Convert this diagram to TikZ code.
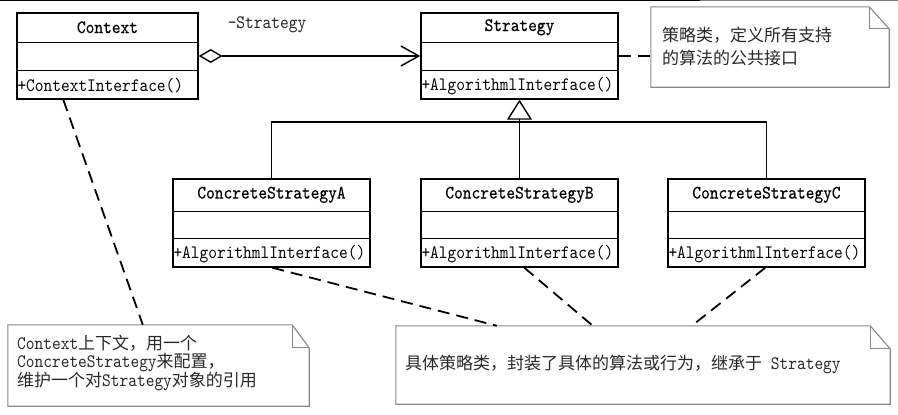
\documentclass[tikz,border=0pt]{standalone}
\usepackage{fontspec}
\newfontfamily\cjk{Noto Sans CJK SC}
\newfontfamily\mono[Extension=.otf,FakeStretch=0.874]{lmmono10-regular}
\newfontfamily\monob[Extension=.otf,FakeStretch=0.874,FakeBold=0.4]{lmmono10-regular}
\usetikzlibrary{arrows.meta,calc}
\newcommand\lat[1]{{\mono\fontsize{19}{21}\selectfont #1}}
\definecolor{notegray}{RGB}{135,135,135}
\definecolor{notetext}{RGB}{40,40,40}
\begin{document}
\begin{tikzpicture}[x=1pt,y=-1pt,
  cls/.style={draw, line width=1.4pt, inner sep=0pt},
  sepline/.style={line width=1.4pt},
  txt/.style={font=\mono\fontsize{19}{21}\selectfont, inner sep=0pt},
  ttl/.style={font=\monob\fontsize{19}{21}\selectfont, inner sep=0pt},
  notebox/.style={inner sep=0pt},
  noteline/.style={draw=notegray, line width=1.1pt, line join=miter},
  ntxt/.style={font=\cjk\fontsize{17}{20}\selectfont, text=notetext, inner sep=0pt, anchor=base west},
  dashline/.style={line width=1.8pt, dash pattern=on 12pt off 7pt},
  link/.style={line width=1.2pt}
]
\useasboundingbox (0,0) rectangle (898,415);
\draw[line width=1.3pt] (0,0.7) -- (700,0.7);
\draw[line width=1.0pt, draw=gray] (700,0.7) -- (898,0.7);

% ---- classes ----
% Context
\node[cls, minimum width=181pt, minimum height=86pt] (ctx) at (107.5,56) {};
\draw[sepline] ($(ctx.north west)+(0,30)$) -- ($(ctx.north east)+(0,30)$);
\draw[sepline] ($(ctx.north west)+(0,58)$) -- ($(ctx.north east)+(0,58)$);
\node[ttl] (ctxname) at ($(ctx.north)+(0,15)$) {Context};
\node[txt, anchor=west] (ctxop) at ($(ctx.south west)+(1,-14)$) {+ContextInterface()};

% Strategy
\node[cls, minimum width=197pt, minimum height=86pt] (str) at (519.5,56) {};
\draw[sepline] ($(str.north west)+(0,30)$) -- ($(str.north east)+(0,30)$);
\draw[sepline] ($(str.north west)+(0,58)$) -- ($(str.north east)+(0,58)$);
\node[ttl] (strname) at ($(str.north)+(0,15)$) {Strategy};
\node[txt, anchor=west] (strop) at ($(str.south west)+(1,-14)$) {+AlgorithmlInterface()};

% Concrete A, B, C
\foreach \nm/\cx/\lbl in {ca/271.5/A, cb/519.5/B, cc/766.5/C}{
  \node[cls, minimum width=197pt, minimum height=88pt] (\nm) at (\cx,223) {};
  \draw[sepline] ($(\nm.north west)+(0,33)$) -- ($(\nm.north east)+(0,33)$);
  \draw[sepline] ($(\nm.north west)+(0,60)$) -- ($(\nm.north east)+(0,60)$);
  \node[ttl] (\nm name) at ($(\nm.north)+(0,16.5)$) {ConcreteStrategy\lbl};
  \node[txt, anchor=west] (\nm op) at ($(\nm.south west)+(1,-14)$) {+AlgorithmlInterface()};
}

% ---- relations ----
\draw[link, {Diamond[open,length=24pt,width=14pt,line width=1.4pt]}-{Straight Barb[length=18pt,width=20pt,line width=1.4pt]}]
  (ctx.east) -- (str.west);
\node[txt, text=black!85] (role) at (267,25) {-Strategy};

\coordinate (bar) at (519.5,122);
\draw[link] (ca.north) |- (bar) -| (cc.north);
\draw[link, -{Triangle[open,length=20pt,width=25pt,line width=1.4pt]}] (cb.north) -- (str.south);

% ---- notes ----
\node[notebox, minimum width=238pt, minimum height=80pt] (n1) at (770,47) {};
\draw[noteline] (n1.north west) -- ($(n1.north east)+(-20,0)$) -- ($(n1.north east)+(0,22)$) -- (n1.south east) -- (n1.south west) -- cycle;
\draw[noteline] ($(n1.north east)+(-20,0)$) |- ($(n1.north east)+(0,22)$);
\node[ntxt] (n1a) at (662,41.5) {策略类，定义所有支持};
\node[ntxt] (n1b) at (662,64.5) {的算法的公共接口};

\node[notebox, minimum width=301pt, minimum height=81pt] (n2) at (158.5,365.5) {};
\draw[noteline] (n2.north west) -- ($(n2.north east)+(-17,0)$) -- ($(n2.north east)+(0,23)$) -- (n2.south east) -- (n2.south west) -- cycle;
\draw[noteline] ($(n2.north east)+(-17,0)$) |- ($(n2.north east)+(0,23)$);
\node[ntxt] (n2a) at (17,349.5) {\lat{Context}上下文，用一个};
\node[ntxt] (n2b) at (17,367.5) {\lat{ConcreteStrategy}来配置，};
\node[ntxt] (n2c) at (17,386.5) {维护一个对\lat{Strategy}对象的引用};

\node[notebox, minimum width=494pt, minimum height=78pt] (n3) at (643,365) {};
\draw[noteline] (n3.north west) -- ($(n3.north east)+(-20,0)$) -- ($(n3.north east)+(0,23)$) -- (n3.south east) -- (n3.south west) -- cycle;
\draw[noteline] ($(n3.north east)+(-20,0)$) |- ($(n3.north east)+(0,23)$);
\node[ntxt] (n3a) at (405,369.5) {具体策略类，封装了具体的算法或行为，继承于\lat{\ Strategy}};

% ---- note connectors ----
\draw[dashline] (str.east) -- (str.east -| n1.west);
\draw[dashline] ($(ctx.south west)+(47,0)$) -- ($(n2.north west)+(135,0)$);
\draw[dashline] ($(ca.south west)+(100,0)$) -- ($(n3.north west)+(101,0)$);
\draw[dashline] ($(cb.south west)+(104,0)$) -- ($(n3.north west)+(197,0)$);
\draw[dashline] ($(cc.south west)+(98,0)$) -- ($(n3.north west)+(296,0)$);
\end{tikzpicture}
\end{document}
